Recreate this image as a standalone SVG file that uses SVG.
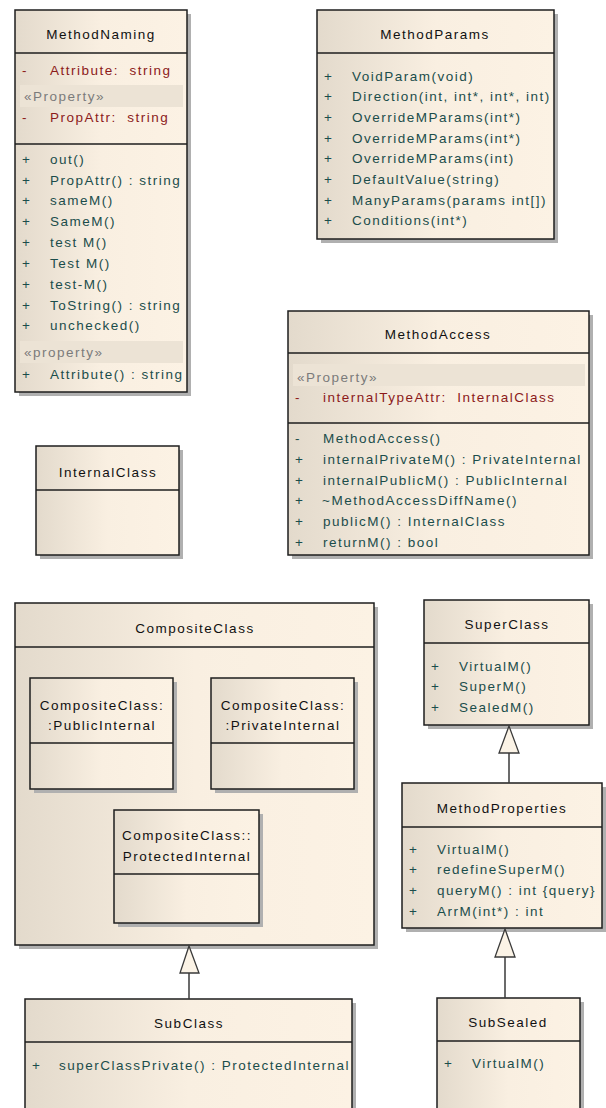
<svg xmlns="http://www.w3.org/2000/svg" width="606" height="1108" viewBox="0 0 606 1108">
  <defs>
    <linearGradient id="fillGrad" x1="0" y1="0" x2="1" y2="0">
      <stop offset="0" stop-color="#e3dacc"/>
      <stop offset="0.5" stop-color="#f9efe1"/>
      <stop offset="1" stop-color="#fcf2e4"/>
    </linearGradient>
    <style>
      .shadow { fill: #b0b0b0; }
      .box { fill: url(#fillGrad); stroke: #1e1e1e; stroke-width: 1.5; }
      .sep { stroke: #1e1e1e; stroke-width: 1.5; }
      .band { fill: #ece3d5; }
      text { font-family: "Liberation Sans", Arial, sans-serif; font-size: 13.5px; letter-spacing: 1.5px; white-space: pre; }
      .title { fill: #111111; text-anchor: middle; }
      .op { fill: #1b4d4b; }
      .attr { fill: #8c1a1a; }
      .stereo { fill: #7b7b7b; }
      .conn { stroke: #3a3a3a; stroke-width: 1.5; fill: none; }
      .head { fill: #fbf3e6; stroke: #3a3a3a; stroke-width: 1.3; }
    </style>
  </defs>

  <!-- MethodNaming -->
  <g id="MethodNaming">
    <rect class="shadow" x="19" y="14" width="172" height="382"/>
    <rect class="box" x="15" y="10" width="172" height="382"/>
    <line class="sep" x1="15" y1="53" x2="187" y2="53"/>
    <line class="sep" x1="15" y1="144" x2="187" y2="144"/>
    <text class="title" x="101" y="39">MethodNaming</text>
    <text class="attr" x="22" y="75">-</text>
    <text class="attr" x="50" y="75">Attribute:  string</text>
    <rect class="band" x="20" y="85" width="163" height="22"/>
    <text class="stereo" x="24" y="101">«Property»</text>
    <text class="attr" x="22" y="122">-</text>
    <text class="attr" x="50" y="122">PropAttr:  string</text>
    <g class="op">
      <text x="22" y="164">+</text><text x="50" y="164">out()</text>
      <text x="22" y="185">+</text><text x="50" y="185">PropAttr() : string</text>
      <text x="22" y="205">+</text><text x="50" y="205">sameM()</text>
      <text x="22" y="226">+</text><text x="50" y="226">SameM()</text>
      <text x="22" y="247">+</text><text x="50" y="247">test M()</text>
      <text x="22" y="268">+</text><text x="50" y="268">Test M()</text>
      <text x="22" y="289">+</text><text x="50" y="289">test-M()</text>
      <text x="22" y="310">+</text><text x="50" y="310">ToString() : string</text>
      <text x="22" y="330">+</text><text x="50" y="330">unchecked()</text>
    </g>
    <rect class="band" x="20" y="341" width="163" height="22"/>
    <text class="stereo" x="24" y="357">«property»</text>
    <text class="op" x="22" y="379">+</text>
    <text class="op" x="50" y="379">Attribute() : string</text>
  </g>

  <!-- MethodParams -->
  <g id="MethodParams">
    <rect class="shadow" x="321" y="14" width="237" height="229"/>
    <rect class="box" x="317" y="10" width="237" height="229"/>
    <line class="sep" x1="317" y1="53" x2="554" y2="53"/>
    <text class="title" x="435" y="39">MethodParams</text>
    <g class="op">
      <text x="324" y="81">+</text><text x="352" y="81">VoidParam(void)</text>
      <text x="324" y="101">+</text><text x="352" y="101">Direction(int, int*, int*, int)</text>
      <text x="324" y="122">+</text><text x="352" y="122">OverrideMParams(int*)</text>
      <text x="324" y="143">+</text><text x="352" y="143">OverrideMParams(int*)</text>
      <text x="324" y="163">+</text><text x="352" y="163">OverrideMParams(int)</text>
      <text x="324" y="184">+</text><text x="352" y="184">DefaultValue(string)</text>
      <text x="324" y="205">+</text><text x="352" y="205">ManyParams(params int[])</text>
      <text x="324" y="225">+</text><text x="352" y="225">Conditions(int*)</text>
    </g>
  </g>

  <!-- MethodAccess -->
  <g id="MethodAccess">
    <rect class="shadow" x="292" y="315" width="301" height="244"/>
    <rect class="box" x="288" y="311" width="301" height="244"/>
    <line class="sep" x1="288" y1="353" x2="589" y2="353"/>
    <line class="sep" x1="288" y1="423" x2="589" y2="423"/>
    <text class="title" x="438" y="339">MethodAccess</text>
    <rect class="band" x="293" y="364" width="292" height="22"/>
    <text class="stereo" x="297" y="382">«Property»</text>
    <text class="attr" x="295" y="402">-</text>
    <text class="attr" x="323" y="402">internalTypeAttr:  InternalClass</text>
    <g class="op">
      <text x="295" y="443">-</text><text x="323" y="443">MethodAccess()</text>
      <text x="295" y="464">+</text><text x="323" y="464">internalPrivateM() : PrivateInternal</text>
      <text x="295" y="485">+</text><text x="323" y="485">internalPublicM() : PublicInternal</text>
      <text x="295" y="505">+</text><text x="322" y="505">~MethodAccessDiffName()</text>
      <text x="295" y="526">+</text><text x="323" y="526">publicM() : InternalClass</text>
      <text x="295" y="547">+</text><text x="323" y="547">returnM() : bool</text>
    </g>
  </g>

  <!-- InternalClass -->
  <g id="InternalClass">
    <rect class="shadow" x="40" y="450" width="143" height="109"/>
    <rect class="box" x="36" y="446" width="143" height="109"/>
    <line class="sep" x1="36" y1="490" x2="179" y2="490"/>
    <text class="title" x="108" y="477">InternalClass</text>
  </g>

  <!-- CompositeClass with nested parts -->
  <g id="CompositeClass">
    <rect class="shadow" x="19" y="607" width="359" height="342"/>
    <rect class="box" x="15" y="603" width="359" height="342"/>
    <line class="sep" x1="15" y1="647" x2="374" y2="647"/>
    <text class="title" x="195" y="633">CompositeClass</text>
  </g>

  <g id="PublicInternal">
    <rect class="shadow" x="34" y="682" width="143" height="111"/>
    <rect class="box" x="30" y="678" width="143" height="111"/>
    <line class="sep" x1="30" y1="743" x2="173" y2="743"/>
    <text class="title" x="102" y="710">CompositeClass:</text>
    <text class="title" x="102" y="730">:PublicInternal</text>
  </g>

  <g id="PrivateInternal">
    <rect class="shadow" x="215" y="682" width="143" height="111"/>
    <rect class="box" x="211" y="678" width="143" height="111"/>
    <line class="sep" x1="211" y1="743" x2="354" y2="743"/>
    <text class="title" x="283" y="710">CompositeClass:</text>
    <text class="title" x="283" y="730">:PrivateInternal</text>
  </g>

  <g id="ProtectedInternal">
    <rect class="shadow" x="118" y="814" width="145" height="113"/>
    <rect class="box" x="114" y="810" width="145" height="113"/>
    <line class="sep" x1="114" y1="874" x2="259" y2="874"/>
    <text class="title" x="187" y="840">CompositeClass::</text>
    <text class="title" x="187" y="861">ProtectedInternal</text>
  </g>

  <!-- SubClass -->
  <g id="SubClass">
    <rect class="shadow" x="29" y="1003" width="327" height="120"/>
    <rect class="box" x="25" y="999" width="327" height="120"/>
    <line class="sep" x1="25" y1="1042" x2="352" y2="1042"/>
    <text class="title" x="189" y="1028">SubClass</text>
    <text class="op" x="32" y="1070">+</text>
    <text class="op" x="59" y="1070">superClassPrivate() : ProtectedInternal</text>
  </g>

  <!-- SuperClass -->
  <g id="SuperClass">
    <rect class="shadow" x="428" y="604" width="165" height="125"/>
    <rect class="box" x="424" y="600" width="165" height="125"/>
    <line class="sep" x1="424" y1="643" x2="589" y2="643"/>
    <text class="title" x="507" y="629">SuperClass</text>
    <g class="op">
      <text x="431" y="671">+</text><text x="459" y="671">VirtualM()</text>
      <text x="431" y="691">+</text><text x="459" y="691">SuperM()</text>
      <text x="431" y="712">+</text><text x="459" y="712">SealedM()</text>
    </g>
  </g>

  <!-- MethodProperties -->
  <g id="MethodProperties">
    <rect class="shadow" x="406" y="787" width="200" height="145"/>
    <rect class="box" x="402" y="783" width="200" height="145"/>
    <line class="sep" x1="402" y1="827" x2="602" y2="827"/>
    <text class="title" x="502" y="813">MethodProperties</text>
    <g class="op">
      <text x="409" y="854">+</text><text x="437" y="854">VirtualM()</text>
      <text x="409" y="874">+</text><text x="437" y="874">redefineSuperM()</text>
      <text x="409" y="895">+</text><text x="437" y="895">queryM() : int {query}</text>
      <text x="409" y="916">+</text><text x="437" y="916">ArrM(int*) : int</text>
    </g>
  </g>

  <!-- SubSealed -->
  <g id="SubSealed">
    <rect class="shadow" x="441" y="1002" width="143" height="120"/>
    <rect class="box" x="437" y="998" width="143" height="120"/>
    <line class="sep" x1="437" y1="1041" x2="580" y2="1041"/>
    <text class="title" x="508" y="1027">SubSealed</text>
    <text class="op" x="444" y="1068">+</text>
    <text class="op" x="472" y="1068">VirtualM()</text>
  </g>

  <!-- generalization connectors -->
  <g id="connectors">
    <line class="conn" x1="189" y1="999" x2="189" y2="973"/>
    <polygon class="head" points="189,946 180,973 199,973"/>
    <line class="conn" x1="509" y1="783" x2="509" y2="753"/>
    <polygon class="head" points="509,726 499,753 519,753"/>
    <line class="conn" x1="505" y1="998" x2="505" y2="957"/>
    <polygon class="head" points="505,929 495,957 515,957"/>
  </g>
</svg>
